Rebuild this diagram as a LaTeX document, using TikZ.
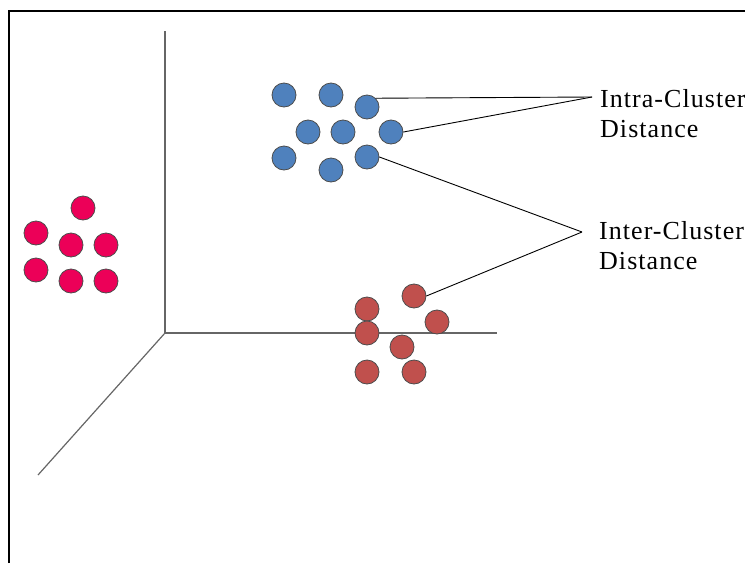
\documentclass[tikz,border=0pt]{standalone}
\usepackage{fontspec}
\setmainfont{Liberation Serif}[LetterSpace=4]
\begin{document}
\begin{tikzpicture}[x=1pt,y=-1pt,
  dot/.style={circle,minimum size=24pt,inner sep=0pt,draw=black!70,line width=0.8pt},
  bluedot/.style={dot,fill={rgb,255:red,79;green,129;blue,189}},
  pinkdot/.style={dot,fill={rgb,255:red,236;green,0;blue,88}},
  reddot/.style={dot,fill={rgb,255:red,192;green,80;blue,77}},
  axis/.style={draw=black!60,line width=1.2pt},
  lead/.style={draw=black,line width=0.9pt},
  lbl/.style={font=\fontsize{26}{30}\selectfont,align=left,anchor=north west,inner sep=0pt}]
\useasboundingbox (0,0) rectangle (745,563);
% frame
\draw[line width=2pt] (9,563) -- (9,11) -- (745,11);
% axes
\coordinate (O) at (165,333);
\coordinate (ytop) at (165,31);
\coordinate (xend) at (497,333);
\coordinate (zend) at (38,475);
\draw[axis] (ytop) -- (O) -- (xend);
\draw[axis] (O) -- (zend);
% pink cluster
\node[pinkdot] (p1) at (83,208) {};
\node[pinkdot] (p2) at (36,233) {};
\node[pinkdot] (p3) at (71,245) {};
\node[pinkdot] (p4) at (106,245) {};
\node[pinkdot] (p5) at (36,270) {};
\node[pinkdot] (p6) at (71,281) {};
\node[pinkdot] (p7) at (106,281) {};
% blue cluster
\node[bluedot] (b1) at (284,95) {};
\node[bluedot] (b2) at (331,95) {};
\node[bluedot] (b3) at (367,107) {};
\node[bluedot] (b4) at (308,132) {};
\node[bluedot] (b5) at (343,132) {};
\node[bluedot] (b6) at (391,132) {};
\node[bluedot] (b7) at (284,158) {};
\node[bluedot] (b8) at (331,170) {};
\node[bluedot] (b9) at (367,157) {};
% red cluster
\node[reddot] (r1) at (414,296) {};
\node[reddot] (r2) at (367,309) {};
\node[reddot] (r3) at (437,322) {};
\node[reddot] (r4) at (367,333) {};
\node[reddot] (r5) at (402,347) {};
\node[reddot] (r6) at (367,372) {};
\node[reddot] (r7) at (414,372) {};
% labels
\node[lbl] (intra) at (600,89) {Intra-Cluster\\Distance};
\node[lbl] (inter) at (599,221) {Inter-Cluster\\Distance};
\coordinate (ia) at (592,97);
\coordinate (ie) at (582,232);
\draw[lead] (b3.north east) -- (ia);
\draw[lead] (b6.east) -- (ia);
\draw[lead] (b9.east) -- (ie);
\draw[lead] (r1.east) -- (ie);
\end{tikzpicture}
\end{document}
